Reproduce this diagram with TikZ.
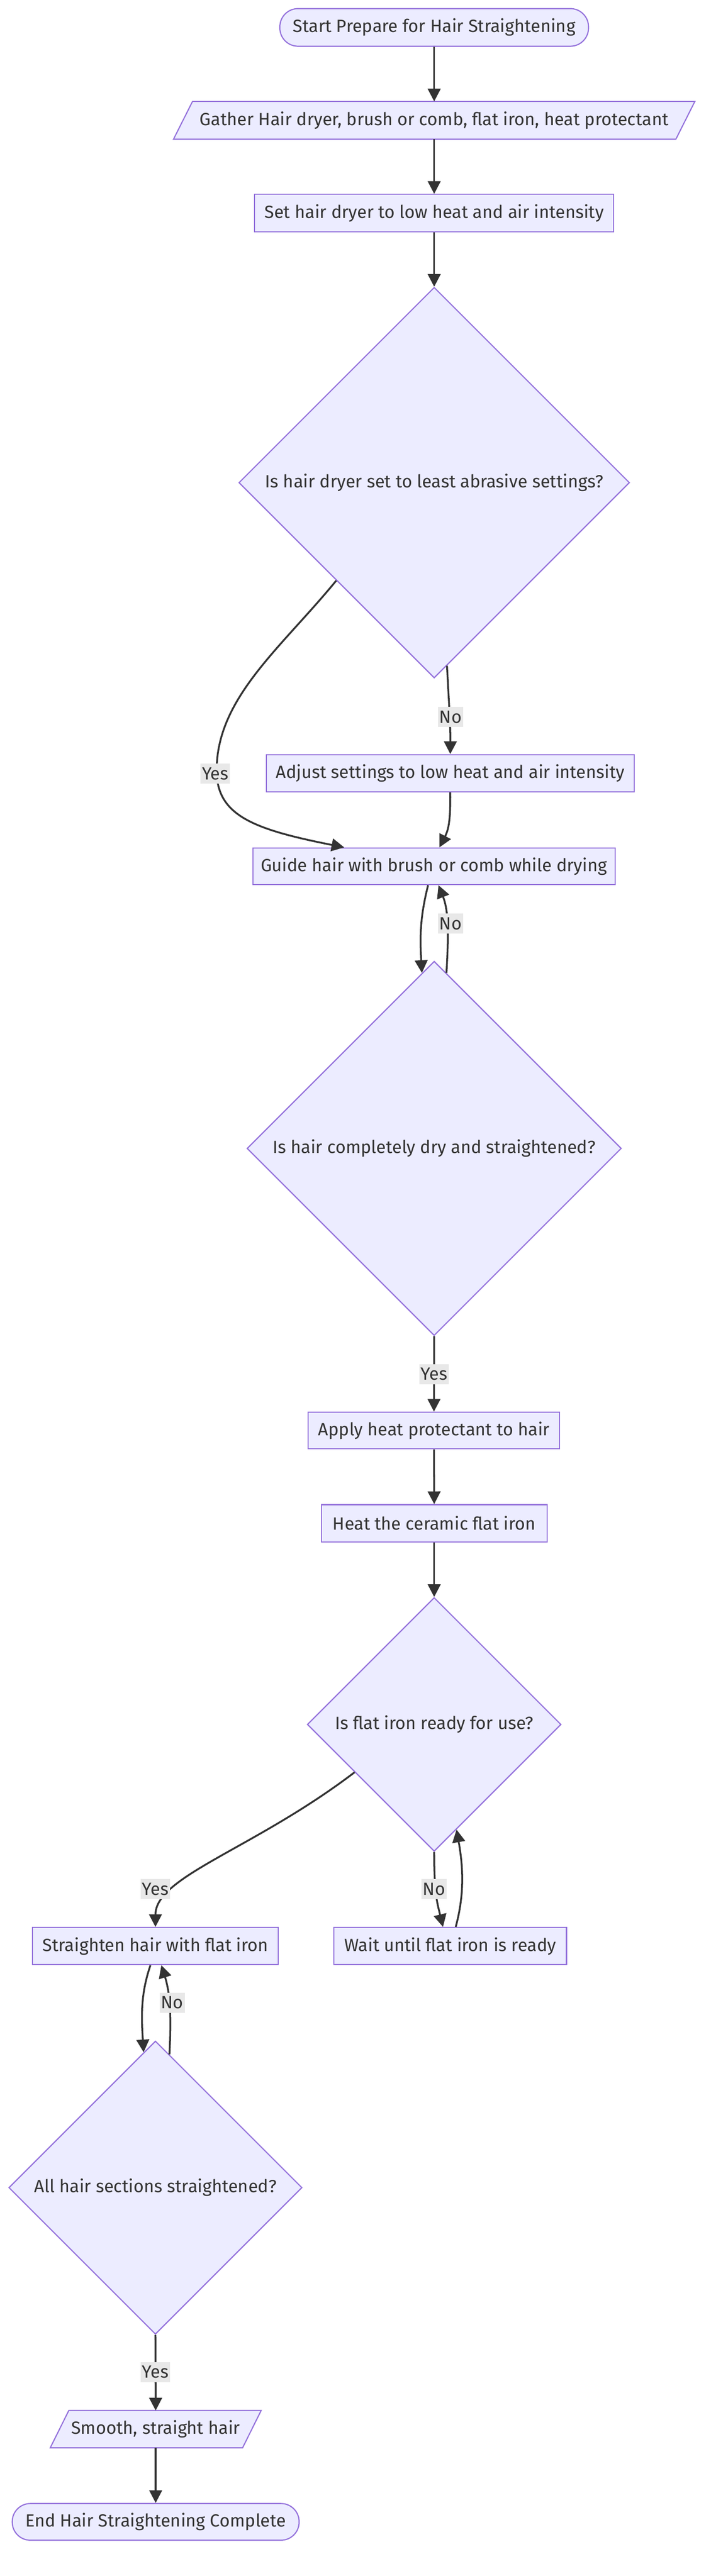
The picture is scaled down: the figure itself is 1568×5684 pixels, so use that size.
\documentclass[tikz,border=0pt]{standalone}
\usepackage{fontspec}
\setmainfont{Fira Sans}
\usetikzlibrary{arrows.meta,shapes.geometric,backgrounds}
\definecolor{nodefill}{HTML}{ECECFF}
\definecolor{nodeline}{HTML}{9370DB}
\definecolor{ink}{HTML}{333333}
\definecolor{lblbg}{HTML}{E8E8E8}
\newcommand{\dfont}{\fontsize{39}{46}\selectfont}
\tikzset{
  base/.style={draw=nodeline, fill=nodefill, line width=2.5pt, text=ink, font=\dfont, inner sep=0pt, align=center},
  box/.style={base, rectangle},
  term/.style={base, rectangle, rounded corners=40pt},
  dec/.style={base, diamond, aspect=1},
  iotext/.style={text=ink, font=\dfont, inner sep=0pt, align=center},
  para/.style={draw=nodeline, fill=nodefill, line width=2.5pt},
  flow/.style={draw=ink, line width=4pt, -{Triangle[length=28pt,width=28pt]}},
  lbl/.style={fill=lblbg, text=ink, font=\dfont, inner xsep=3pt, inner ysep=0pt, minimum height=44pt}
}
\begin{document}
\begin{tikzpicture}[x=1pt,y=-1pt]
\useasboundingbox (0,0) rectangle (1568,5684);

% nodes
\node[term, minimum width=681pt, minimum height=83pt] (start) at (958,60.5) {Start Prepare for Hair Straightening};
\node[iotext, minimum width=1108pt, minimum height=83pt] (gather) at (958,265.5) {Gather Hair dryer, brush or comb, flat iron, heat protectant};
\node[box, minimum width=792pt, minimum height=83pt] (set) at (958,470.5) {Set hair dryer to low heat and air intensity};
\node[dec, minimum width=862pt, minimum height=862pt] (d1) at (958,1065) {Is hair dryer set to least abrasive settings?};
\node[box, minimum width=811pt, minimum height=82pt] (adjust) at (993.5,1706) {Adjust settings to low heat and air intensity};
\node[box, minimum width=799pt, minimum height=81pt] (guide) at (957.5,1911.5) {Guide hair with brush or comb while drying};
\node[dec, minimum width=826pt, minimum height=826pt] (d2) at (958,2534) {Is hair completely dry and straightened?};
\node[box, minimum width=555pt, minimum height=81pt] (apply) at (957.5,3156.5) {Apply heat protectant to hair};
\node[box, minimum width=498pt, minimum height=82pt] (heat) at (958,3361) {Heat the ceramic flat iron};
\node[dec, minimum width=560pt, minimum height=560pt] (d3) at (958,3805) {Is flat iron ready for use?};
\node[box, minimum width=542pt, minimum height=82pt] (straighten) at (343,4294) {Straighten hair with flat iron};
\node[box, minimum width=513pt, minimum height=82pt] (wait) at (993.5,4294) {Wait until flat iron is ready};
\node[dec, minimum width=647pt, minimum height=647pt] (d4) at (343,4827) {All hair sections straightened?};
\node[iotext, minimum width=424pt, minimum height=82pt] (smooth) at (343.5,5360) {Smooth, straight hair};
\node[term, minimum width=633pt, minimum height=81pt] (end) at (343.5,5564.5) {End Hair Straightening Complete};

\begin{pgfonlayer}{background}
\fill[white] (0,0) rectangle (1568,5684);
\draw[para] ([xshift=-21pt]gather.south west) -- ([xshift=21pt]gather.north west) -- ([xshift=21pt]gather.north east) -- ([xshift=-21pt]gather.south east) -- cycle;
\draw[para] ([xshift=-20.5pt]smooth.south west) -- ([xshift=20.5pt]smooth.north west) -- ([xshift=20.5pt]smooth.north east) -- ([xshift=-20.5pt]smooth.south east) -- cycle;
\end{pgfonlayer}

% connectors
\draw[flow] (start.south) -- (gather.north);
\draw[flow] (gather.south) -- (set.north);
\draw[flow] (set.south) -- (d1.north);
\draw[flow] (d1.south west) .. controls (620,1430) and (478,1540) .. (478,1700) .. controls (478,1800) and (560,1830) .. ([xshift=-198pt]guide.north);
\draw[flow] (d1.274) .. controls (991,1560) and (994,1600) .. (adjust.north);
\draw[flow] (adjust.south) .. controls (994,1810) and (990,1830) .. ([xshift=12pt]guide.north);
\draw[flow] ([xshift=-13pt]guide.south) .. controls (928,2020) and (926,2060) .. (d2.94);
\draw[flow] (d2.86) .. controls (990,2060) and (990,2010) .. ([xshift=10pt]guide.south);
\draw[flow] (d2.south) -- (apply.north);
\draw[flow] (apply.south) -- (heat.north);
\draw[flow] (heat.south) -- (d3.north);
\draw[flow] (d3.211.4) .. controls (560,4080) and (343,4140) .. (straighten.north);
\draw[flow] (d3.south) .. controls (958,4180) and (965,4200) .. ([xshift=-16pt]wait.north);
\draw[flow] ([xshift=12pt]wait.north) .. controls (1025,4180) and (1022,4120) .. (d3.282.5);
\draw[flow] ([xshift=-11pt]straighten.south) .. controls (310,4400) and (312,4450) .. (d4.95.2);
\draw[flow] (d4.84.4) .. controls (378,4450) and (376,4400) .. ([xshift=13pt]straighten.south);
\draw[flow] (d4.south) -- (smooth.north);
\draw[flow] (smooth.south) -- (end.north);

% edge labels
\node[lbl] (l1) at (475,1707) {Yes};
\node[lbl] (l2) at (994,1582) {No};
\node[lbl] (l3) at (994,2038) {No};
\node[lbl] (l4) at (958,3032) {Yes};
\node[lbl] (l5) at (343,4168) {Yes};
\node[lbl] (l6) at (958,4168) {No};
\node[lbl] (l7) at (380,4419) {No};
\node[lbl] (l8) at (343,5234) {Yes};
\end{tikzpicture}
\end{document}
